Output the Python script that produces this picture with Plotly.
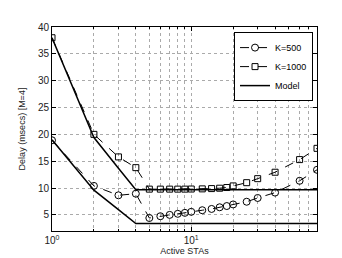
import plotly.graph_objects as go

# Data
x_k500 = [1, 2, 3, 4, 5, 6, 7, 8, 9, 10, 12, 14, 16, 18, 20, 25, 30, 40, 60, 80]
y_k500 = [18.9, 10.4, 8.65, 8.95, 4.42, 4.75, 5.0, 5.2, 5.38, 5.57, 5.87, 6.11, 6.42, 6.65, 6.95, 7.45, 8.15, 9.15, 11.35, 13.4]

x_k1000 = [1, 2, 3, 4, 5, 6, 7, 8, 9, 10, 12, 14, 16, 18, 20, 25, 30, 40, 60, 80]
y_k1000 = [38.0, 20.0, 15.8, 13.8, 9.8, 9.8, 9.8, 9.8, 9.8, 9.82, 9.85, 9.9, 9.97, 10.1, 10.4, 11.0, 11.75, 12.95, 15.3, 17.4]

x_model = [1, 2, 3, 4, 5, 6, 7, 8, 9, 10, 12, 14, 16, 18, 20, 25, 30, 40, 60, 80]
y_model_k500 = [19.0, 9.6, 5.97, 3.4, 3.4, 3.4, 3.4, 3.4, 3.4, 3.4, 3.4, 3.4, 3.4, 3.4, 3.4, 3.4, 3.4, 3.4, 3.4, 3.4]
y_model_k1000 = [38.0, 19.4, 13.7, 9.7, 9.7, 9.7, 9.7, 9.7, 9.7, 9.7, 9.7, 9.7, 9.7, 9.7, 9.7, 9.7, 9.7, 9.7, 9.7, 9.7]

x_major = [1, 10]
x_major_text = ["10<sup>0</sup>", "10<sup>1</sup>"]
x_minor = [2, 3, 4, 5, 6, 7, 8, 9, 20, 30, 40, 50, 60, 70, 80]

font = "Liberation Sans, Arial, sans-serif"

fig = go.Figure()
fig.add_trace(go.Scatter(
    x=x_k500, y=y_k500, mode="lines+markers", name="K=500",
    line=dict(color="black", width=1, dash="dash"),
    marker=dict(symbol="circle-open", size=7, color="black", line=dict(width=1))))
fig.add_trace(go.Scatter(
    x=x_k1000, y=y_k1000, mode="lines+markers", name="K=1000",
    line=dict(color="black", width=1, dash="dash"),
    marker=dict(symbol="square-open", size=6, color="black", line=dict(width=1))))
fig.add_trace(go.Scatter(
    x=x_model, y=y_model_k500, mode="lines", name="Model",
    line=dict(color="black", width=1.5)))
fig.add_trace(go.Scatter(
    x=x_model, y=y_model_k1000, mode="lines", name="Model", showlegend=False,
    line=dict(color="black", width=1.5)))

grid = dict(showgrid=True, gridcolor="#aaaaaa", griddash="dot", gridwidth=1)

fig.update_layout(
    width=342, height=258,
    margin=dict(l=44, r=33, t=19, b=30),
    paper_bgcolor="white", plot_bgcolor="white",
    font=dict(family=font, size=10, color="#222222"),
    showlegend=True,
    legend=dict(x=0.985, y=0.975, xanchor="right", yanchor="top",
                bgcolor="white", bordercolor="black", borderwidth=1,
                font=dict(size=9, family=font, color="black"),
                tracegroupgap=0, itemwidth=30),
    xaxis=dict(type="log", range=[0, 1.9031],
               tickmode="array", tickvals=x_major, ticktext=x_major_text,
               ticks="inside", ticklen=4, tickcolor="black",
               showline=True, linecolor="black", linewidth=1, mirror="ticks",
               zeroline=False,
               title=dict(text="Active STAs", font=dict(size=9), standoff=2),
               minor=dict(tickvals=x_minor, ticks="inside", ticklen=2, tickcolor="black",
                          showgrid=True, gridcolor="#aaaaaa", griddash="dot", gridwidth=1),
               **grid),
    yaxis=dict(range=[2, 40], tick0=0, dtick=5,
               ticks="inside", ticklen=4, tickcolor="black",
               showline=True, linecolor="black", linewidth=1, mirror="ticks",
               zeroline=False,
               title=dict(text="Delay (msecs) [M=4]", font=dict(size=9), standoff=10),
               **grid),
)

fig.write_html("out.html")
